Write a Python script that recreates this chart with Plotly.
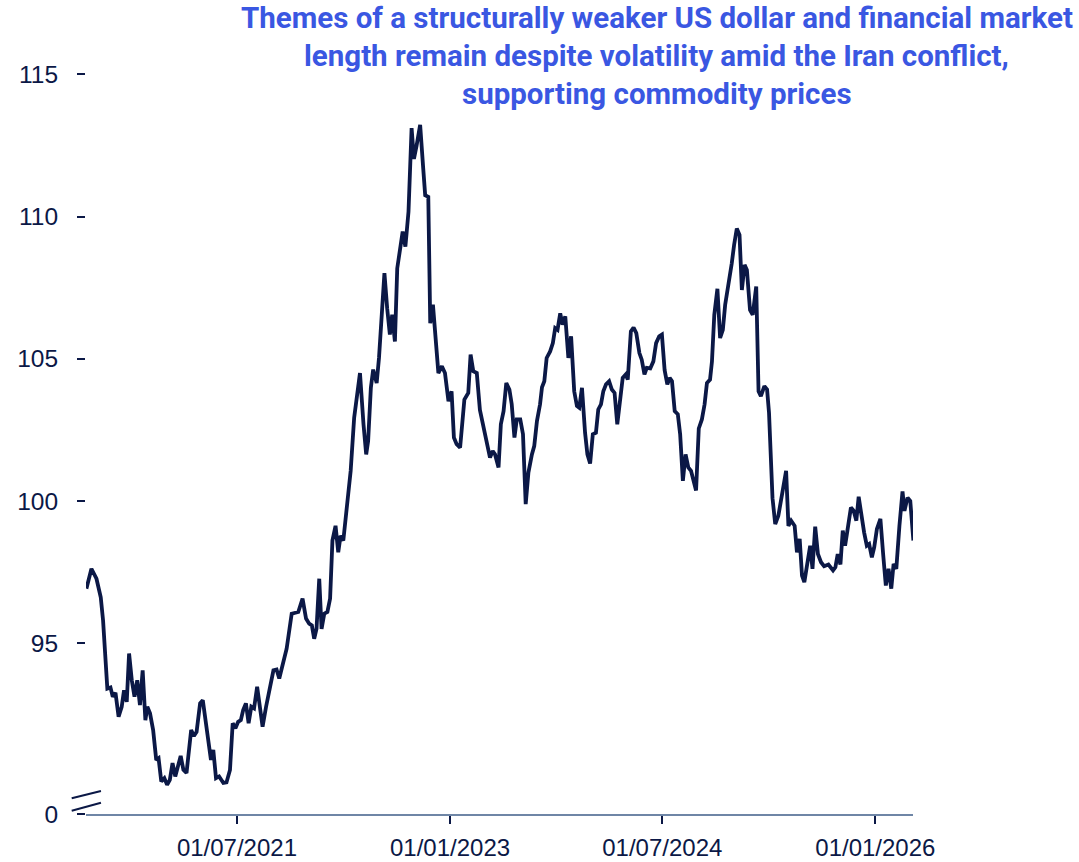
import plotly.graph_objects as go

# Weekly index level, June 2020 - April 2026
dates = [
    "2020-06-08", "2020-06-21", "2020-07-04", "2020-07-15", "2020-07-21", "2020-07-28",
    "2020-08-01", "2020-08-09", "2020-08-15", "2020-08-22", "2020-08-30", "2020-09-07",
    "2020-09-13", "2020-09-20", "2020-09-26", "2020-10-03", "2020-10-10", "2020-10-17",
    "2020-10-24", "2020-10-31", "2020-11-07", "2020-11-12", "2020-11-19", "2020-11-27",
    "2020-12-05", "2020-12-11", "2020-12-18", "2020-12-26", "2021-01-02", "2021-01-09",
    "2021-01-16", "2021-01-23", "2021-01-31", "2021-02-06", "2021-02-13", "2021-02-21",
    "2021-03-05", "2021-03-12", "2021-03-19", "2021-03-28", "2021-04-04", "2021-04-11",
    "2021-04-20", "2021-04-25", "2021-05-01", "2021-05-08", "2021-05-16", "2021-05-27",
    "2021-06-04", "2021-06-13", "2021-06-20", "2021-06-27", "2021-07-04", "2021-07-11",
    "2021-07-17", "2021-07-24", "2021-07-31", "2021-08-07", "2021-08-14", "2021-08-22",
    "2021-08-29", "2021-09-05", "2021-09-14", "2021-09-21", "2021-09-27", "2021-10-03",
    "2021-10-11", "2021-10-18", "2021-11-06", "2021-11-19", "2021-12-06", "2021-12-17",
    "2021-12-26", "2022-01-03", "2022-01-10", "2022-01-16", "2022-01-22", "2022-01-29",
    "2022-02-04", "2022-02-11", "2022-02-19", "2022-02-26", "2022-03-04", "2022-03-12",
    "2022-03-19", "2022-03-25", "2022-04-01", "2022-04-10", "2022-04-20", "2022-04-29",
    "2022-05-07", "2022-05-14", "2022-05-23", "2022-05-30", "2022-06-04", "2022-06-11",
    "2022-06-17", "2022-06-26", "2022-07-02", "2022-07-09", "2022-07-16", "2022-07-23",
    "2022-07-30", "2022-08-05", "2022-08-12", "2022-08-18", "2022-09-01", "2022-09-08",
    "2022-09-16", "2022-09-24", "2022-09-30", "2022-10-07", "2022-10-16", "2022-10-24",
    "2022-10-29", "2022-11-06", "2022-11-11", "2022-11-18", "2022-11-23", "2022-12-02",
    "2022-12-11", "2022-12-19", "2022-12-28", "2023-01-05", "2023-01-11", "2023-01-18",
    "2023-01-27", "2023-02-07", "2023-02-17", "2023-02-23", "2023-03-02", "2023-03-11",
    "2023-03-19", "2023-03-30", "2023-04-06", "2023-04-14", "2023-04-21", "2023-04-27",
    "2023-05-06", "2023-05-12", "2023-05-19", "2023-05-26", "2023-06-03", "2023-06-09",
    "2023-06-16", "2023-06-22", "2023-07-01", "2023-07-08", "2023-07-15", "2023-07-22",
    "2023-07-31", "2023-08-06", "2023-08-13", "2023-08-21", "2023-08-26", "2023-09-01",
    "2023-09-07", "2023-09-16", "2023-09-23", "2023-09-29", "2023-10-05", "2023-10-12",
    "2023-10-18", "2023-10-25", "2023-11-02", "2023-11-09", "2023-11-17", "2023-11-24",
    "2023-11-30", "2023-12-07", "2023-12-15", "2023-12-21", "2023-12-28", "2024-01-04",
    "2024-01-12", "2024-01-18", "2024-01-25", "2024-01-31", "2024-02-07", "2024-02-15",
    "2024-02-22", "2024-02-29", "2024-03-07", "2024-03-14", "2024-03-21", "2024-03-29",
    "2024-04-03", "2024-04-11", "2024-04-18", "2024-04-25", "2024-05-03", "2024-05-09",
    "2024-05-16", "2024-05-22", "2024-05-31", "2024-06-08", "2024-06-15", "2024-06-23",
    "2024-06-30", "2024-07-07", "2024-07-14", "2024-07-20", "2024-07-26", "2024-08-02",
    "2024-08-10", "2024-08-16", "2024-08-23", "2024-08-30", "2024-09-06", "2024-09-13",
    "2024-09-19", "2024-09-26", "2024-10-03", "2024-10-11", "2024-10-18", "2024-10-24",
    "2024-11-01", "2024-11-06", "2024-11-12", "2024-11-20", "2024-11-27", "2024-12-04",
    "2024-12-10", "2024-12-16", "2024-12-23", "2024-12-27", "2025-01-02", "2025-01-09",
    "2025-01-16", "2025-01-22", "2025-01-29", "2025-02-04", "2025-02-12", "2025-02-19",
    "2025-02-28", "2025-03-06", "2025-03-12", "2025-03-21", "2025-03-28", "2025-04-02",
    "2025-04-11", "2025-04-18", "2025-04-26", "2025-05-05", "2025-05-16", "2025-05-22",
    "2025-05-29", "2025-06-07", "2025-06-13", "2025-06-20", "2025-06-26", "2025-07-02",
    "2025-07-10", "2025-07-17", "2025-07-23", "2025-07-30", "2025-08-06", "2025-08-14",
    "2025-08-22", "2025-09-02", "2025-09-14", "2025-09-20", "2025-09-26", "2025-10-03",
    "2025-10-09", "2025-10-15", "2025-10-21", "2025-10-30", "2025-11-06", "2025-11-13",
    "2025-11-19", "2025-11-26", "2025-12-03", "2025-12-10", "2025-12-16", "2025-12-23",
    "2025-12-29", "2026-01-05", "2026-01-14", "2026-01-21", "2026-01-28", "2026-02-04",
    "2026-02-11", "2026-02-17", "2026-02-24", "2026-03-04", "2026-03-12", "2026-03-17",
    "2026-03-25", "2026-04-01", "2026-04-09",
]

index_level = [
    96.92, 97.62, 97.27, 96.62, 95.80, 94.40,
    93.41, 93.45, 93.12, 93.26, 92.42, 92.77,
    93.35, 92.94, 94.64, 93.70, 93.12, 93.70,
    92.83, 94.05, 92.30, 92.77, 92.54, 91.95,
    90.90, 90.96, 90.14, 90.26, 90.03, 90.20,
    90.79, 90.32, 90.67, 91.04, 90.55, 90.44,
    91.95, 91.74, 91.89, 92.89, 93.00, 92.30,
    91.49, 90.90, 91.25, 90.26, 90.32, 90.09,
    90.11, 90.55, 92.19, 92.01, 92.24, 92.30,
    92.65, 92.89, 92.19, 92.77, 92.71, 93.47,
    92.77, 92.07, 92.77, 93.24, 93.59, 94.05,
    94.08, 93.76, 94.81, 96.04, 96.10, 96.57,
    95.87, 95.69, 95.63, 95.16, 95.51, 97.27,
    95.51, 96.04, 96.10, 96.57, 98.61, 99.13,
    98.20, 98.78, 98.61, 99.77, 101.06, 102.93,
    103.86, 104.50, 102.70, 101.64, 102.11, 103.98,
    104.62, 104.15, 105.03, 106.78, 108.01, 106.78,
    105.85, 106.55, 105.61, 108.18, 109.47, 108.94,
    110.17, 113.11, 112.03, 112.50, 113.22, 111.68,
    110.75, 110.69, 106.25, 106.90, 106.08, 104.50,
    104.74, 104.50, 103.51, 103.86, 102.23, 102.00,
    101.88, 103.57, 103.80, 105.15, 104.56, 104.50,
    103.20, 102.46, 102.11, 101.53, 101.76, 101.64,
    101.18, 102.70, 103.16, 104.15, 103.92, 103.40,
    102.23, 102.87, 102.87, 102.35, 99.89, 101.00,
    101.64, 101.93, 102.81, 103.40, 104.00, 104.21,
    105.03, 105.26, 105.55, 106.08, 106.02, 106.60,
    106.20, 106.49, 105.03, 105.79, 103.86, 103.34,
    103.28, 103.98, 102.40, 101.64, 101.32, 102.35,
    102.40, 103.22, 103.40, 103.86, 104.10, 104.21,
    103.92, 103.80, 102.70, 103.40, 104.33, 104.45,
    104.27, 105.96, 106.10, 105.90, 105.20, 104.97,
    104.45, 104.68, 104.66, 104.91, 105.55, 105.79,
    105.85, 104.60, 104.10, 104.33, 104.21, 103.16,
    103.05, 102.35, 100.71, 101.64, 101.18, 101.06,
    100.71, 100.37, 102.55, 102.87, 103.40, 104.15,
    104.27, 104.91, 106.55, 107.46, 105.73, 106.02,
    106.90, 107.36, 107.89, 108.36, 109.00, 109.58,
    109.35, 107.42, 108.30, 108.12, 106.72, 106.55,
    107.54, 103.86, 103.69, 104.04, 103.92, 103.10,
    100.10, 99.19, 99.48, 100.18, 101.06, 99.13,
    99.31, 99.13, 98.20, 98.67, 97.38, 97.15,
    97.79, 98.43, 97.62, 99.10, 98.14, 97.85,
    97.71, 97.77, 97.56, 97.67, 98.14, 97.77,
    98.96, 98.43, 98.96, 99.77, 99.66, 99.31,
    100.15, 99.43, 98.90, 98.43, 98.49, 98.02,
    98.37, 99.02, 99.37, 98.14, 97.03, 97.62,
    96.92, 97.79, 97.62, 99.13, 100.34, 99.66,
    100.12, 100.00, 98.61,
]

x_tick_dates = ["2021-07-01", "2023-01-01", "2024-07-01", "2026-01-01"]
x_tick_labels = ["01/07/2021", "01/01/2023", "01/07/2024", "01/01/2026"]

# The lowest tick sits at the broken-axis floor and is labelled 0
y_tick_values = [89, 95, 100, 105, 110, 115]
y_tick_labels = ["0", "95", "100", "105", "110", "115"]

title_lines = [
    "Themes of a structurally weaker US dollar and financial market",
    "length remain despite volatility amid the Iran conflict,",
    "supporting commodity prices",
]

NAVY = "#0B1846"
TITLE_BLUE = "#3A57E2"
AXIS_GREY = "#6F86A6"

fig = go.Figure()
fig.add_trace(go.Scatter(
    x=dates, y=index_level, mode="lines",
    line=dict(color=NAVY, width=3.8),
    hoverinfo="x+y", showlegend=False,
))

tick_font = dict(family="Liberation Sans, Arial, sans-serif", size=24.5, color=NAVY)
x_tick_font = dict(family="Liberation Sans, Arial, sans-serif", size=24, color=NAVY)

fig.update_xaxes(
    type="date",
    range=["2020-06-07", "2026-04-08"],
    tickvals=x_tick_dates, ticktext=x_tick_labels,
    showgrid=False, zeroline=False,
    showline=True, linecolor=AXIS_GREY, linewidth=2,
    ticks="outside", ticklen=8, tickwidth=1.6, tickcolor=NAVY,
    tickfont=x_tick_font, ticklabelstandoff=3, automargin=False,
)
fig.update_yaxes(
    range=[89, 116.1],
    tickvals=y_tick_values, ticktext=y_tick_labels,
    showgrid=False, zeroline=False, showline=False,
    ticks="outside", ticklen=8, tickwidth=2, tickcolor=NAVY,
    tickfont=tick_font, ticklabelstandoff=14, automargin=False,
)

# Axis-break marks just above the floor of the value axis
for y0, y1 in [(0.0204, 0.0298), (0.0043, 0.0147)]:
    fig.add_shape(type="line", xref="paper", yref="paper",
                  x0=-0.0173, x1=0.0181, y0=y0, y1=y1,
                  line=dict(color=NAVY, width=2))

# Three-line title, right of centre above the plot
for line_text, ypos in zip(title_lines, [1.0324, 0.9831, 0.9339]):
    fig.add_annotation(
        text=line_text, xref="paper", yref="paper",
        x=0.6904, y=ypos, xanchor="center", yanchor="middle",
        showarrow=False,
        font=dict(family="Roboto, sans-serif", size=29.5, color=TITLE_BLUE, weight="bold"),
    )

fig.update_layout(
    width=1079, height=862,
    margin=dict(l=86, r=166, t=43, b=48),
    plot_bgcolor="white", paper_bgcolor="white",
)

fig.write_html("out.html")
